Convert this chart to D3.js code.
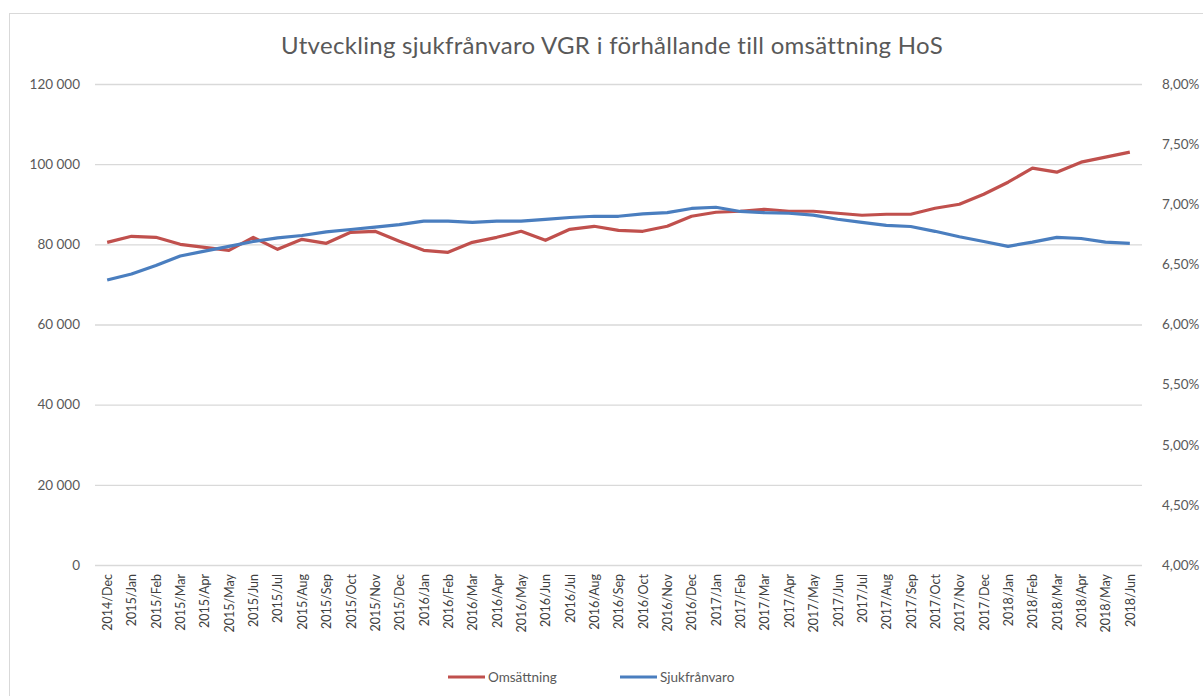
<!DOCTYPE html>
<html>
<head>
<meta charset="utf-8">
<script src="https://cdn.jsdelivr.net/npm/d3@7"></script>
<style>
  body { margin: 0; background: #fff; }
  text { font-family: Lato, "Open Sans", sans-serif; fill: #595959; }
</style>
</head>
<body>
<div id="chart"></div>
<script>
// Chart data
var months = ["2014/Dec",
  "2015/Jan", "2015/Feb", "2015/Mar", "2015/Apr", "2015/May", "2015/Jun",
  "2015/Jul", "2015/Aug", "2015/Sep", "2015/Oct", "2015/Nov", "2015/Dec",
  "2016/Jan", "2016/Feb", "2016/Mar", "2016/Apr", "2016/May", "2016/Jun",
  "2016/Jul", "2016/Aug", "2016/Sep", "2016/Oct", "2016/Nov", "2016/Dec",
  "2017/Jan", "2017/Feb", "2017/Mar", "2017/Apr", "2017/May", "2017/Jun",
  "2017/Jul", "2017/Aug", "2017/Sep", "2017/Oct", "2017/Nov", "2017/Dec",
  "2018/Jan", "2018/Feb", "2018/Mar", "2018/Apr", "2018/May", "2018/Jun"];

// Omsättning (left axis)
var omsattning = [80500,
  82000, 81750, 80000, 79250, 78500, 81750,
  78750, 81250, 80250, 83000, 83250, 80750,
  78500, 78000, 80500, 81750, 83250, 81000,
  83750, 84500, 83500, 83250, 84500, 87000,
  88000, 88250, 88750, 88250, 88250, 87750,
  87250, 87500, 87500, 89000, 90000, 92500,
  95500, 99000, 98000, 100500, 101750, 103000];

// Sjukfrånvaro in % (right axis)
var sjukfranvaro = [6.37,
  6.42, 6.49, 6.57, 6.61, 6.65, 6.69,
  6.72, 6.74, 6.77, 6.79, 6.81, 6.83,
  6.86, 6.86, 6.85, 6.86, 6.86, 6.875,
  6.89, 6.90, 6.90, 6.92, 6.93, 6.965,
  6.975, 6.94, 6.93, 6.925, 6.91, 6.875,
  6.85, 6.825, 6.815, 6.775, 6.73, 6.69,
  6.65, 6.685, 6.725, 6.715, 6.685, 6.675];

var leftTicks = [0, 20000, 40000, 60000, 80000, 100000, 120000];
var rightTicks = [4.0, 4.5, 5.0, 5.5, 6.0, 6.5, 7.0, 7.5, 8.0];

var titleText = "Utveckling sjukfrånvaro VGR i förhållande till omsättning HoS";
var seriesNames = ["Omsättning", "Sjukfrånvaro"];
var colors = ["#c0504d", "#4a7ebf"];

var svgWidth = 1203;
var svgHeight = 696;

var margin = { top: 84, right: 61, bottom: 131, left: 95 };
var width = svgWidth - margin.left - margin.right;
var height = svgHeight - margin.top - margin.bottom;

var svg = d3.select("#chart")
  .append("svg")
  .attr("width", svgWidth)
  .attr("height", svgHeight);

// outer chart border
svg.append("rect")
  .attr("x", 9.5)
  .attr("y", 13.5)
  .attr("width", 1260)
  .attr("height", 760)
  .attr("fill", "none")
  .attr("stroke", "#d9d9d9");

var chartGroup = svg.append("g")
  .attr("transform", `translate(${margin.left}, ${margin.top})`);

// scales
var xScale = d3.scalePoint()
  .domain(months)
  .range([0, width])
  .padding(0.5);

var yLeft = d3.scaleLinear()
  .domain([0, 120000])
  .range([height, 0]);

var yRight = d3.scaleLinear()
  .domain([4, 8])
  .range([height, 0]);

var fmtLeft = function (d) { return d3.format(",")(d).replace(/,/g, " "); };
var fmtRight = function (d) { return d3.format(".2f")(d).replace(".", ",") + "%"; };

// gridlines + left axis
var leftAxis = d3.axisLeft(yLeft)
  .tickValues(leftTicks)
  .tickSize(-width)
  .tickPadding(15)
  .tickFormat(fmtLeft);

var gLeft = chartGroup.append("g").call(leftAxis);
gLeft.select(".domain").remove();
gLeft.selectAll(".tick line").attr("stroke", "#d9d9d9").attr("stroke-width", 1.3);
gLeft.selectAll(".tick text").style("font-size", "13.5px").style("fill", "#595959");

// right axis
var rightAxis = d3.axisRight(yRight)
  .tickValues(rightTicks)
  .tickSize(0)
  .tickPadding(20)
  .tickFormat(fmtRight);

var gRight = chartGroup.append("g")
  .attr("transform", `translate(${width}, 0)`)
  .call(rightAxis);
gRight.select(".domain").remove();
gRight.selectAll(".tick text").style("font-size", "13.5px").style("fill", "#595959");

// bottom axis with rotated labels
var bottomAxis = d3.axisBottom(xScale)
  .tickSize(0)
  .tickPadding(8);

var gBottom = chartGroup.append("g")
  .attr("transform", `translate(0, ${height})`)
  .call(bottomAxis);
gBottom.select(".domain").remove();
gBottom.selectAll(".tick text")
  .style("font-size", "12.5px")
  .style("fill", "#404040")
  .attr("transform", "rotate(-90)")
  .attr("x", -9)
  .attr("y", 0)
  .attr("dy", "0.35em")
  .style("text-anchor", "end");

// lines
var lineLeft = d3.line()
  .x((d, i) => xScale(months[i]))
  .y(d => yLeft(d));

var lineRight = d3.line()
  .x((d, i) => xScale(months[i]))
  .y(d => yRight(d));

chartGroup.append("path")
  .datum(omsattning)
  .attr("fill", "none")
  .attr("stroke", colors[0])
  .attr("stroke-width", 3.2)
  .attr("stroke-linejoin", "round")
  .attr("d", lineLeft);

chartGroup.append("path")
  .datum(sjukfranvaro)
  .attr("fill", "none")
  .attr("stroke", colors[1])
  .attr("stroke-width", 3.2)
  .attr("stroke-linejoin", "round")
  .attr("d", lineRight);

// title
svg.append("text")
  .attr("x", 612)
  .attr("y", 54)
  .style("text-anchor", "middle")
  .style("font-size", "24px")
  .style("letter-spacing", "0.3px")
  .style("fill", "#595959")
  .text(titleText);

// legend
var legendX = [448, 620];
var legend = svg.selectAll(".legend")
  .data(seriesNames)
  .enter()
  .append("g")
  .attr("class", "legend")
  .attr("transform", (d, i) => `translate(${legendX[i]}, 677)`);

legend.append("line")
  .attr("x1", 0)
  .attr("x2", 37)
  .attr("stroke", (d, i) => colors[i])
  .attr("stroke-width", 3.2);

legend.append("text")
  .attr("x", 40)
  .attr("dy", "0.35em")
  .style("font-size", "13.5px")
  .style("fill", "#595959")
  .text(d => d);
</script>
</body>
</html>
